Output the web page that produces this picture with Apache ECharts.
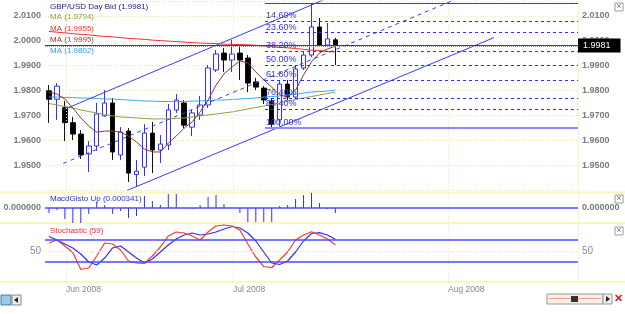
<!DOCTYPE html>
<html><head><meta charset="utf-8">
<script src="https://cdn.jsdelivr.net/npm/echarts@6/dist/echarts.min.js"></script>
<style>html,body{margin:0;padding:0;background:#fff}#c{width:625px;height:314px}</style>
</head><body><div id="c"></div>
<script>
// ---- data ----
const dates = ['2008-05-29','2008-05-30','2008-06-02','2008-06-03','2008-06-04','2008-06-05','2008-06-06','2008-06-09','2008-06-10','2008-06-11','2008-06-12','2008-06-13','2008-06-16','2008-06-17','2008-06-18','2008-06-19','2008-06-20','2008-06-23','2008-06-24','2008-06-25','2008-06-26','2008-06-27','2008-06-30','2008-07-01','2008-07-02','2008-07-03','2008-07-04','2008-07-07','2008-07-08','2008-07-09','2008-07-10','2008-07-11','2008-07-14','2008-07-15','2008-07-16','2008-07-17','2008-07-18'];
const opens  = [1.9799,1.9765,1.9731,1.9671,1.9625,1.9545,1.9577,1.9698,1.9750,1.9541,1.9637,1.9462,1.9492,1.9629,1.9561,1.9581,1.9722,1.9750,1.9653,1.9702,1.9742,1.9883,1.9951,1.9923,1.9951,1.9931,1.9835,1.9810,1.9758,1.9682,1.9826,1.9774,1.9891,1.9943,2.0056,1.9983,2.0004];
const closes = [1.9765,1.9818,1.9671,1.9625,1.9541,1.9577,1.9706,1.9750,1.9553,1.9633,1.9468,1.9476,1.9629,1.9561,1.9585,1.9722,1.9762,1.9661,1.9710,1.9742,1.9891,1.9947,1.9923,1.9947,1.9923,1.9830,1.9814,1.9762,1.9665,1.9826,1.9774,1.9887,1.9943,2.0056,1.9983,2.0008,1.9981];
const lows   = [1.9670,1.9682,1.9597,1.9601,1.9525,1.9472,1.9557,1.9694,1.9521,1.9521,1.9432,1.9412,1.9456,1.9468,1.9509,1.9561,1.9710,1.9649,1.9617,1.9682,1.9730,1.9875,1.9875,1.9875,1.9843,1.9794,1.9802,1.9746,1.9651,1.9657,1.9762,1.9766,1.9883,1.9935,1.9975,1.9975,1.9903];
const highs  = [1.9822,1.9830,1.9758,1.9694,1.9641,1.9597,1.9750,1.9802,1.9770,1.9653,1.9649,1.9521,1.9665,1.9674,1.9621,1.9746,1.9786,1.9762,1.9722,1.9778,1.9903,1.9963,1.9971,2.0004,1.9975,1.9943,1.9851,1.9818,1.9770,1.9843,1.9843,1.9899,1.9955,2.0151,2.0092,2.0072,2.0012];
const maGreen = [1.9748,1.9742,1.9736,1.9730,1.9722,1.9716,1.9710,1.9704,1.9698,1.9694,1.9692,1.9690,1.9688,1.9686,1.9686,1.9686,1.9688,1.9690,1.9694,1.9698,1.9702,1.9706,1.9710,1.9714,1.9720,1.9726,1.9732,1.9738,1.9744,1.9750,1.9758,1.9764,1.9770,1.9776,1.9782,1.9788,1.9794];
const maRed = [2.0038,2.0035,2.0032,2.0029,2.0026,2.0024,2.0021,2.0018,2.0016,2.0013,2.0010,2.0008,2.0006,2.0003,2.0001,1.9999,1.9997,1.9995,1.9993,1.9991,1.9990,1.9989,1.9987,1.9986,1.9985,1.9984,1.9982,1.9979,1.9977,1.9974,1.9972,1.9969,1.9966,1.9963,1.9961,1.9958,1.9955];
const maBrown = [1.9794,1.9786,1.9766,1.9730,1.9690,1.9657,1.9633,1.9637,1.9637,1.9633,1.9617,1.9593,1.9565,1.9553,1.9553,1.9589,1.9617,1.9649,1.9674,1.9714,1.9762,1.9822,1.9867,1.9895,1.9919,1.9911,1.9875,1.9843,1.9814,1.9782,1.9774,1.9802,1.9863,1.9915,1.9951,1.9967,1.9979];
const maBlue = [1.9774,1.9774,1.9772,1.9772,1.9770,1.9770,1.9768,1.9766,1.9766,1.9764,1.9762,1.9760,1.9758,1.9758,1.9756,1.9756,1.9756,1.9756,1.9758,1.9758,1.9760,1.9762,1.9762,1.9764,1.9766,1.9768,1.9770,1.9774,1.9776,1.9778,1.9782,1.9786,1.9790,1.9794,1.9796,1.9798,1.9802];
const macdHist = [-0.0005,-0.0002,-0.0011,-0.0015,-0.0015,-0.0006,0.0006,0.0003,-0.0006,-0.0003,-0.0010,-0.0008,0.0012,0.0007,0.0003,0.0014,0.0014,0.0000,-0.0001,0.0003,0.0011,0.0013,0.0004,0.0000,-0.0005,-0.0014,-0.0014,-0.0014,-0.0014,0.0002,0.0003,0.0009,0.0013,0.0015,0.0005,-0.0001,-0.0005];
const stochRed  = [64.1,69.5,58.7,47.0,16.5,19.2,40.7,64.1,62.3,51.5,31.7,28.1,27.2,40.7,56.9,76.6,83.8,82.0,76.6,69.5,83.8,94.6,96.4,94.6,87.4,62.3,38.9,21.8,19.7,33.5,47.9,69.5,78.4,84.4,78.4,71.3,60.5];
const stochBlue = [75.7,69.5,62.3,55.1,44.3,29.9,24.5,37.1,55.1,58.7,47.9,37.1,28.1,35.3,47.9,60.5,71.3,78.4,82.0,78.4,80.2,83.8,89.2,93.7,91.0,82.0,67.7,47.9,28.1,25.4,31.7,47.9,67.7,81.1,82.6,78.4,70.7];
// slot positions (x index) of month starts; future slots are calendar days
const monthTicks = [2.14, 23.14, 50.16];
const monthLabels = ['Jun 2008', 'Jul 2008', 'Aug 2008'];
const priceTicksMin = 1.94, priceTicksMax = 2.016;
// drawing tools: channel anchor points [slot, price]
const channelUpper = [[1.76, 1.9722], [34.45, 2.0164]];
const channelLower = [[9.81, 1.9398], [55.94, 2.0013]];
const channelMid   = [[1.80, 1.9507], [50.91, 2.0164]];
const fibStartX = 27.16;
const fibLabels = ['0.00%','14.60%','23.60%','38.20%','50.00%','61.80%','76.40%','85.40%','100.00%'];
const fibPrices = [2.0151, 2.0078, 2.0033, 1.9960, 1.9901, 1.9842, 1.9769, 1.9724, 1.9651];
const lastPrice = 1.9981;
const stochLevels = [70, 30];

// ---- chart ----
const FONT = '"Liberation Sans", Arial, sans-serif';
const BLUE = '#3434f4';
const FIBC = '#2a2aff';
const GRIDC = '#ece6a6';
const XMAX = 66.5;
const chart = echarts.init(document.getElementById('c'));
const pair = a => a.map((v, i) => [i, v]);
const candleData = dates.map((d, i) => [i, opens[i], closes[i], lows[i], highs[i]]);
const vlines = monthTicks.map(v => ({ xAxis: v }));
const vlineMark = {
  symbol: ['none', 'none'], silent: true, animation: false, label: { show: false },
  lineStyle: { color: GRIDC, type: [1, 2], width: 1 }, data: vlines
};
const fibData = fibPrices.map((p, k) => {
  const solid = (k === 0 || k === fibPrices.length - 1);
  return [
    { coord: [fibStartX, p],
      lineStyle: solid ? { type: 'solid', width: k === 0 ? 1 : 2, color: k === 0 ? BLUE : '#8c8cff' } : { type: [3, 3], width: 1, color: FIBC },
      label: { show: true, formatter: fibLabels[k], position: 'insideStartTop', distance: 1, color: '#3434e0', fontSize: 9, fontFamily: FONT } },
    { coord: [XMAX, p] }
  ];
});
fibData.push([
  { coord: [-0.5, lastPrice], lineStyle: { type: 'solid', color: '#444', width: 1 },
    label: { show: true, position: 'end', distance: 0, formatter: lastPrice.toFixed(4), color: '#fff', backgroundColor: '#000', padding: [3, 10, 2, 5], fontSize: 9, fontFamily: FONT } },
  { coord: [XMAX, lastPrice] }
]);
fibData.push([
  { coord: [-0.5, lastPrice - 0.0004], lineStyle: { type: [1, 1], color: '#999', width: 1 }, label: { show: false } },
  { coord: [XMAX, lastPrice - 0.0004] }
]);

const yLab = (fmt) => ({ color: '#7a7a7a', fontSize: 9, fontWeight: 'bold', fontFamily: FONT, formatter: fmt });
const priceFmt = v => v.toFixed(4);
const mainY = (pos, split) => ({
  type: 'value', gridIndex: 0, position: pos, min: priceTicksMin, max: priceTicksMax, interval: 0.01,
  axisLine: { show: false }, axisTick: { show: false },
  axisLabel: Object.assign(yLab(priceFmt), { margin: 4, showMinLabel: false, showMaxLabel: false }),
  splitLine: { show: split, lineStyle: { color: GRIDC, type: [1, 2] } }
});
const macdY = pos => ({
  type: 'value', gridIndex: 1, position: pos, min: -0.0015, max: 0.0015,
  axisLine: { show: false }, axisTick: { show: false }, splitLine: { show: false },
  axisLabel: Object.assign(yLab(v => '0.000000'), { margin: 4, customValues: [0] })
});
const stochY = pos => ({
  type: 'value', gridIndex: 2, position: pos, min: -6, max: 100,
  axisLine: { show: false }, axisTick: { show: false }, splitLine: { show: false },
  axisLabel: { color: '#8a8a8a', fontSize: 10, fontFamily: FONT, margin: 4, customValues: [50], formatter: v => String(Math.round(v)) }
});
const xAx = (gi, show) => ({
  type: 'value', gridIndex: gi, min: -0.5, max: XMAX, show: true,
  axisLine: { show: false }, axisTick: { show: false }, splitLine: { show: false },
  axisLabel: show ? {
    customValues: monthTicks, align: 'left', margin: 3, color: '#888', fontSize: 8.5, fontFamily: FONT,
    formatter: v => { let b = 0; monthTicks.forEach((m, k) => { if (Math.abs(m - v) < Math.abs(monthTicks[b] - v)) b = k; }); return monthLabels[b]; }
  } : { show: false }
});
const lineS = (name, data, color, extra) => Object.assign({
  type: 'line', name, data, xAxisIndex: 0, yAxisIndex: 0, showSymbol: false, symbol: 'none',
  lineStyle: { color, width: 1 }, animation: false, silent: true
}, extra || {});

const txt = (x, y, text, fill, size, weight) => ({
  type: 'text', x, y, silent: true,
  style: { text, fill, font: (weight || 'normal') + ' ' + (size || 8) + 'px ' + FONT, verticalAlign: 'middle' }
});
const hline = (y, c, w) => ({ type: 'line', silent: true, shape: { x1: 0, y1: y, x2: 625, y2: y }, style: { stroke: c, lineWidth: w } });
const closeBox = (y) => ([
  { type: 'rect', silent: true, shape: { x: 615, y, width: 8, height: 8 }, style: { fill: '#fff', stroke: '#9a9a9a', lineWidth: 1 } },
  { type: 'text', silent: true, x: 619, y: y + 4, style: { text: '×', fill: '#777', font: '9px ' + FONT, align: 'center', verticalAlign: 'middle' } }
]);

chart.setOption({
  animation: false,
  backgroundColor: '#fff',
  grid: [
    { left: 45, right: 47, top: 1.1, height: 188.9 },
    { left: 45, right: 47, top: 193, height: 30 },
    { left: 45, right: 47, top: 223, height: 59 }
  ],
  xAxis: [xAx(0, false), xAx(1, false), xAx(2, true)],
  yAxis: [mainY('left', true), mainY('right', false), macdY('left'), macdY('right'), stochY('left'), stochY('right')],
  series: [
    { type: 'candlestick', name: 'GBP/USD', data: candleData, xAxisIndex: 0, yAxisIndex: 0, barWidth: 5,
      encode: { x: 0, y: [1, 2, 3, 4] }, silent: true,
      itemStyle: { color: '#ffffff', color0: '#000000', borderColor: '#2f2fff', borderColor0: '#111111', borderWidth: 1 } },
    lineS('MA1', pair(maGreen), '#8aa43a', { markLine: vlineMark }),
    lineS('MA4', pair(maBlue), '#38a8f8'),
    lineS('MA2', pair(maRed), '#ff2a2a'),
    lineS('MA3', pair(maBrown), '#8b3b2b'),
    lineS('chanU', channelUpper, '#3a3aff'),
    lineS('chanL', channelLower, '#3a3aff'),
    lineS('chanM', channelMid, '#3a3aff', { lineStyle: { color: '#3a3aff', width: 1, type: [4, 4] } }),
    lineS('fib', [], BLUE, { markLine: { symbol: ['none', 'none'], silent: true, animation: false, data: fibData } }),
    { type: 'bar', name: 'MacdGisto', data: pair(macdHist), xAxisIndex: 1, yAxisIndex: 2, barWidth: 1, silent: true,
      itemStyle: { color: '#2f2fee' },
      markLine: { symbol: ['none', 'none'], silent: true, animation: false, label: { show: false },
        data: vlines.map(v => Object.assign({ lineStyle: { color: GRIDC, type: [1, 2], width: 1 } }, v)).concat([{ yAxis: 0, lineStyle: { color: '#4a4aff', width: 1.5, type: 'solid' } }]) } },
    { type: 'line', name: 'StochD', data: pair(stochBlue), xAxisIndex: 2, yAxisIndex: 4, showSymbol: false, symbol: 'none', silent: true,
      lineStyle: { color: '#3030ff', width: 1.2 },
      markLine: { symbol: ['none', 'none'], silent: true, animation: false, label: { show: false },
        data: vlines.map(v => Object.assign({ lineStyle: { color: GRIDC, type: [1, 2], width: 1 } }, v))
          .concat([{ yAxis: 50, lineStyle: { color: GRIDC, type: [1, 2], width: 1 } }])
          .concat(stochLevels.map(l => ({ yAxis: l, lineStyle: { color: '#4a4aff', width: 1.5, type: 'solid' } }))) } },
    { type: 'line', name: 'StochK', data: pair(stochRed), xAxisIndex: 2, yAxisIndex: 4, showSymbol: false, symbol: 'none', silent: true,
      lineStyle: { color: '#ff3a2a', width: 1.2 } }
  ],
  graphic: [
    hline(192.5, '#fbf5c2', 2), hline(223, '#fbf5c2', 2), hline(282, '#fbf5c2', 2),
    { type: 'line', silent: true, shape: { x1: 578.5, y1: 0, x2: 578.5, y2: 282 }, style: { stroke: '#f7f2cc', lineWidth: 1 } },
    txt(50, 7, 'GBP/USD Day Bid (1.9981)', '#1c1c80'),
    txt(50, 16.5, 'MA (1.9794)', '#7f9a2a'),
    txt(50, 28.3, 'MA (1.9955)', '#ff2a2a'),
    txt(50, 39.5, 'MA (1.9995)', '#8b3b2b'),
    txt(50, 51, 'MA (1.9802)', '#2f9cf0'),
    txt(50, 199, 'MacdGisto Up (0.000341)', '#2f2fcc'),
    txt(50, 231, 'Stochastic (59)', '#ff2a2a'),
    ...closeBox(3), ...closeBox(195), ...closeBox(227),
    { type: 'rect', silent: true, shape: { x: 547, y: 294, width: 56, height: 10 }, style: { fill: '#f6f1e2', stroke: '#9a9a9a', lineWidth: 1 } },
    { type: 'line', silent: true, shape: { x1: 549, y1: 298.5, x2: 601, y2: 298.5 }, style: { stroke: '#f0a0a0', lineWidth: 1 } },
    { type: 'rect', silent: true, shape: { x: 571, y: 296, width: 7, height: 6 }, style: { fill: '#333' } },
    { type: 'rect', silent: true, shape: { x: 603, y: 294, width: 9, height: 10 }, style: { fill: '#eeeeee', stroke: '#9a9a9a', lineWidth: 1 } },
    { type: 'polygon', silent: true, shape: { points: [[606, 296], [606, 302], [610, 299]] }, style: { fill: '#222' } },
    { type: 'text', silent: true, x: 618, y: 299, style: { text: '✕', fill: '#d02020', font: 'bold 11px ' + FONT, align: 'center', verticalAlign: 'middle' } },
    { type: 'rect', silent: true, shape: { x: 1, y: 295, width: 10, height: 10 }, style: { fill: '#9ccbe8', stroke: '#3f7fb0', lineWidth: 1 } },
    { type: 'rect', silent: true, shape: { x: 12, y: 295, width: 9, height: 10 }, style: { fill: '#eeeeee', stroke: '#888', lineWidth: 1 } },
    { type: 'polygon', silent: true, shape: { points: [[18, 297], [18, 303], [14, 300]] }, style: { fill: '#222' } }
  ]
});
</script>
</body></html>
